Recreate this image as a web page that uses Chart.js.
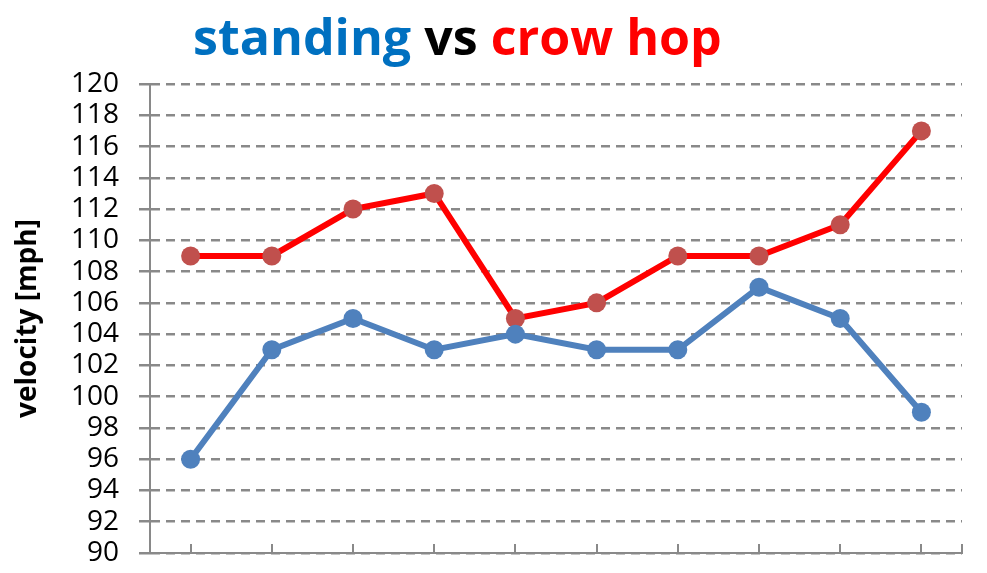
<!DOCTYPE html>
<html>
<head>
<meta charset="utf-8">
<script src="https://cdn.jsdelivr.net/npm/chart.js@4.4.1/dist/chart.umd.min.js"></script>
<style>
  html, body { margin: 0; padding: 0; background: #ffffff; }
  #wrap { position: relative; width: 987px; height: 573px; }
  canvas { display: block; }
</style>
</head>
<body>
<div id="wrap"><canvas id="c" width="987" height="573"></canvas></div>
<script>
const categories = ['1', '2', '3', '4', '5', '6', '7', '8', '9', '10'];
const standing = [96, 103, 105, 103, 104, 103, 103, 107, 105, 99];
const crowHop = [109, 109, 112, 113, 105, 106, 109, 109, 111, 117];
const yMin = 90, yMax = 120, yStep = 2;
const titleParts = [
  { text: 'standing', color: '#0070C0' },
  { text: ' vs ', color: '#000000' },
  { text: 'crow hop', color: '#FF0000' }
];
const yAxisTitle = 'velocity [mph]';

const titlePlugin = {
  id: 'multiTitle',
  afterDraw(chart) {
    const ctx = chart.ctx;
    ctx.save();
    const size = 48;
    ctx.font = 'bold ' + size + 'px "Open Sans"';
    const total = titleParts.reduce((s, p) => s + ctx.measureText(p.text).width, 0);
    const fs = size * 529 / total;
    ctx.font = 'bold ' + fs + 'px "Open Sans"';
    let x = 193;
    ctx.textBaseline = 'alphabetic';
    titleParts.forEach(p => {
      ctx.fillStyle = p.color;
      ctx.fillText(p.text, x, 55);
      x += ctx.measureText(p.text).width;
    });
    ctx.restore();
  }
};

const xTickPlugin = {
  id: 'xTicksUp',
  beforeDatasetsDraw(chart) {
    const ctx = chart.ctx;
    const xs = chart.scales.x;
    const bottom = chart.chartArea.bottom;
    ctx.save();
    ctx.strokeStyle = '#898989';
    ctx.lineWidth = 2;
    const positions = categories.map((c, i) => xs.getPixelForValue(i));
    positions.push(chart.chartArea.right);
    positions.forEach(px => {
      ctx.beginPath();
      ctx.moveTo(Math.round(px), bottom);
      ctx.lineTo(Math.round(px), bottom - 9);
      ctx.stroke();
    });
    ctx.restore();
  }
};

new Chart(document.getElementById('c'), {
  type: 'line',
  data: {
    labels: categories,
    datasets: [
      {
        label: 'standing',
        data: standing,
        borderColor: '#4F81BD',
        backgroundColor: '#4F81BD',
        pointBackgroundColor: '#4F81BD',
        pointBorderColor: '#4F81BD',
        borderWidth: 6,
        pointRadius: 9.5,
        pointBorderWidth: 0,
        tension: 0
      },
      {
        label: 'crow hop',
        data: crowHop,
        borderColor: '#FF0000',
        backgroundColor: '#C0504D',
        pointBackgroundColor: '#C0504D',
        pointBorderColor: '#C0504D',
        borderWidth: 6,
        pointRadius: 9.5,
        pointBorderWidth: 0,
        tension: 0
      }
    ]
  },
  options: {
    responsive: false,
    animation: false,
    devicePixelRatio: 1,
    layout: { padding: { left: 0, right: 25, top: 84, bottom: 0 } },
    plugins: {
      legend: { display: false },
      title: { display: false },
      tooltip: { enabled: false }
    },
    scales: {
      x: {
        offset: true,
        ticks: { display: false },
        grid: { display: false, drawOnChartArea: false },
        border: { display: true, color: '#898989', width: 2 },
        afterFit(scale) { scale.height = 20; scale.paddingLeft = 0; scale.paddingRight = 0; }
      },
      y: {
        min: yMin,
        max: yMax,
        ticks: {
          stepSize: yStep,
          autoSkip: false,
          color: '#000000',
          padding: 20,
          font: { family: '"Open Sans"', size: 28 }
        },
        grid: {
          color: '#898989',
          lineWidth: 2.5,
          tickLength: 11,
          tickColor: '#898989',
          tickBorderDash: [],
          drawTicks: true
        },
        border: { display: true, color: '#898989', width: 2, dash: [9, 6] },
        title: {
          display: true,
          text: yAxisTitle,
          color: '#000000',
          font: { family: '"Open Sans"', size: 28, weight: 'bold' },
          padding: { top: 11, bottom: 0 }
        },
        afterFit(scale) { scale.width = 150; scale.paddingTop = 0; scale.paddingBottom = 0; }
      }
    }
  },
  plugins: [xTickPlugin, titlePlugin]
});
</script>
</body>
</html>
